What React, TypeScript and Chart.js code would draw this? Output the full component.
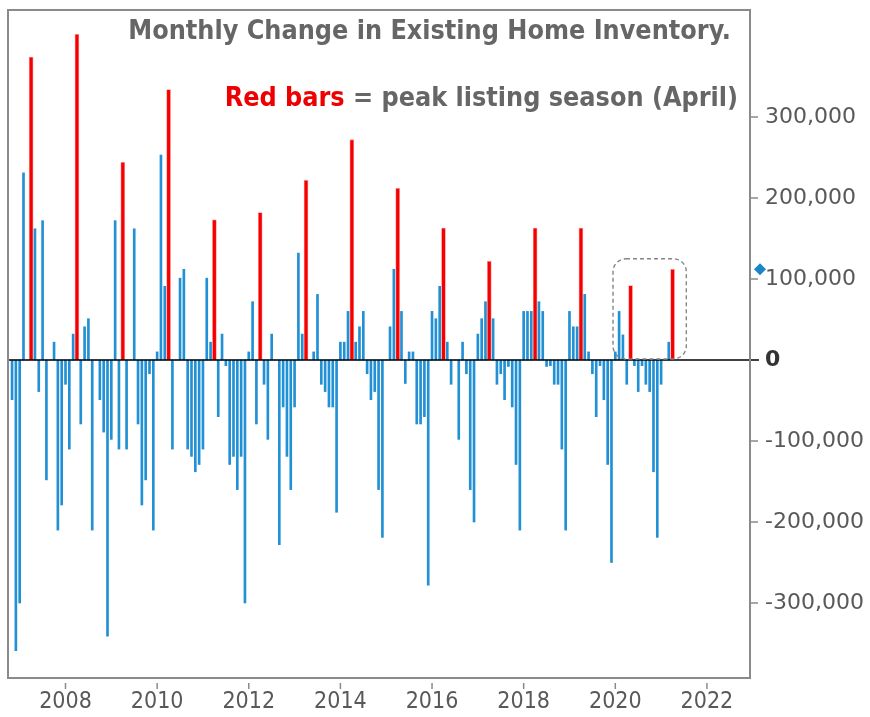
import React, { useEffect, useRef } from "react";
import { Chart, registerables } from "chart.js";

Chart.register(...registerables);

// ---- Data (thousands of units, monthly change in existing home inventory) ----
const firstYear = 2006;
const firstMonth = 11; // series starts Nov 2006
const y2006 = [-49, -359]; // Nov–Dec
const y2007 = [-300, 231, 0, 374, 162, -39, 172, -148, 0, 22, -210, -179];
const y2008 = [-30, -110, 32, 402, -79, 41, 51, -210, 0, -49, -89, -341];
const y2009 = [-98, 172, -110, 244, -110, 0, 162, -79, -179, -148, -17, -210];
const y2010 = [10, 253, 91, 334, -110, 0, 101, 112, -110, -119, -138, -129];
const y2011 = [-110, 101, 22, 173, -70, 32, -7, -129, -119, -160, -119, -300];
const y2012 = [10, 72, -79, 182, -30, -98, 32, 0, -228, -58, -119, -160];
const y2013 = [-58, 132, 32, 222, 0, 10, 81, -30, -39, -58, -58, -188];
const y2014 = [22, 22, 60, 272, 22, 41, 60, -17, -49, -39, -160, -219];
const y2015 = [0, 41, 112, 212, 60, -29, 10, 10, -79, -79, -70, -278];
const y2016 = [60, 51, 91, 163, 22, -30, 0, -98, 22, -17, -160, -200];
const y2017 = [32, 51, 72, 122, 51, -30, -17, -49, -8, -58, -129, -210];
const y2018 = [60, 60, 60, 163, 72, 60, -8, -7, -30, -30, -110, -210];
const y2019 = [60, 41, 41, 163, 81, 10, -17, -70, -7, -49, -129, -250];
const y2020 = [10, 60, 31, -30, 92, -7, -39, -7, -30, -39, -138, -219];
const y2021 = [-30, 0, 22, 112]; // Jan–Apr
const unitScale = 1000;

const peakListingMonths = [
  "2007-04", "2008-04", "2009-04", "2010-04", "2011-04", "2012-04", "2013-04",
  "2014-04", "2015-04", "2016-04", "2017-04", "2018-04", "2019-04", "2020-05", "2021-04",
];

const yearTicks = [2008, 2010, 2012, 2014, 2016, 2018, 2020, 2022];
const valueTicks = [-300000, -200000, -100000, 0, 100000, 200000, 300000];

const titleLine1 = "Monthly Change in Existing Home Inventory.";
const titleRed = "Red bars";
const titleRest = " = peak listing season (April)";

// highlighted window (data space)
const highlightFrom = 2019.95;
const highlightTo = 2021.55;
const highlightTop = 125000;

const yearlySeries = [y2006, y2007, y2008, y2009, y2010, y2011, y2012, y2013, y2014, y2015, y2016, y2017, y2018, y2019, y2020, y2021];

type Pt = { x: number; y: number };

function buildPoints() {
  const blue: Pt[] = [];
  const red: Pt[] = [];
  let last: Pt | null = null;
  yearlySeries.forEach((vals, i) => {
    const year = firstYear + i;
    const startM = i === 0 ? firstMonth : 1;
    vals.forEach((v, j) => {
      const month = startM + j;
      const key = `${year}-${String(month).padStart(2, "0")}`;
      const p = { x: year + (month - 1) / 12, y: v * unitScale };
      if (peakListingMonths.includes(key)) red.push(p);
      else blue.push(p);
      last = p;
    });
  });
  return { blue, red, last: last as unknown as Pt };
}

const GRAY_TEXT = "#666666";
const AXIS_TEXT = "#595959";
const FRAME = "#8a8a8a";

function noPad(s: any) {
  s.paddingTop = 0;
  s.paddingBottom = 0;
  s.paddingLeft = 0;
  s.paddingRight = 0;
}

export default function App() {
  const ref = useRef<HTMLCanvasElement>(null);

  useEffect(() => {
    document.body.style.margin = "0";
    const { blue, red, last } = buildPoints();

    const overlay = {
      id: "overlay",
      afterDatasetsDraw(chart: any) {
        const { ctx, chartArea: a, scales } = chart;
        const xs = scales.x;
        const ys = scales.y;
        ctx.save();
        // zero line
        const y0 = ys.getPixelForValue(0);
        ctx.strokeStyle = "#000";
        ctx.lineWidth = 1.5;
        ctx.beginPath();
        ctx.moveTo(a.left, y0);
        ctx.lineTo(a.right + 9, y0);
        ctx.stroke();

        // frame
        ctx.strokeStyle = FRAME;
        ctx.lineWidth = 2;
        ctx.strokeRect(a.left, a.top, a.right - a.left, a.bottom - a.top);

        // y tick marks
        ctx.lineWidth = 1.5;
        valueTicks.forEach((v) => {
          if (v === 0) return;
          const py = ys.getPixelForValue(v);
          ctx.beginPath();
          ctx.moveTo(a.right, py);
          ctx.lineTo(a.right + 8, py);
          ctx.stroke();
        });
        // x tick marks
        yearTicks.forEach((yr) => {
          const px = xs.getPixelForValue(yr);
          ctx.beginPath();
          ctx.moveTo(px, a.bottom + 5);
          ctx.lineTo(px, a.bottom + 11);
          ctx.stroke();
        });

        // dashed highlight box
        const bx1 = xs.getPixelForValue(highlightFrom);
        const bx2 = xs.getPixelForValue(highlightTo);
        const by1 = ys.getPixelForValue(highlightTop);
        const by2 = y0 - 1;
        ctx.setLineDash([4, 3]);
        ctx.strokeStyle = "#858585";
        ctx.lineWidth = 1.4;
        ctx.beginPath();
        (ctx as any).roundRect(bx1, by1, bx2 - bx1, by2 - by1, 13);
        ctx.stroke();
        ctx.setLineDash([]);

        // last value diamond
        const dy = ys.getPixelForValue(last.y);
        const dx = a.right + 10;
        ctx.fillStyle = "#1a86c8";
        ctx.beginPath();
        ctx.moveTo(dx, dy - 6);
        ctx.lineTo(dx + 6, dy);
        ctx.lineTo(dx, dy + 6);
        ctx.lineTo(dx - 6, dy);
        ctx.closePath();
        ctx.fill();

        // titles
        const fam = "'DejaVu Sans Condensed', 'DejaVu Sans', sans-serif";
        ctx.font = `bold 100px ${fam}`;
        const w1 = ctx.measureText(titleLine1).width;
        const size = (100 * 603) / w1;
        ctx.font = `bold ${size}px ${fam}`;
        ctx.textBaseline = "alphabetic";
        ctx.textAlign = "right";
        ctx.fillStyle = GRAY_TEXT;
        ctx.fillText(titleLine1, 731, 39);
        const restW = ctx.measureText(titleRest).width;
        ctx.fillText(titleRest, 738, 106);
        ctx.fillStyle = "#ee0000";
        ctx.fillText(titleRed, 738 - restW, 106);
        ctx.restore();
      },
    };

    const chart = new Chart(ref.current!, {
      type: "bar",
      data: {
        datasets: [
          {
            label: "Monthly change",
            data: blue as any,
            backgroundColor: "#2190d4",
            barThickness: 2,
            grouped: false,
          } as any,
          {
            label: "Peak listing month",
            data: red as any,
            backgroundColor: "#f50000",
            borderColor: "rgba(255,130,130,0.85)",
            borderWidth: 0.8,
            barThickness: 4,
            grouped: false,
          } as any,
        ],
      },
      options: {
        animation: false,
        responsive: false,
        maintainAspectRatio: false,
        layout: { padding: { left: 8, top: 10, right: 0, bottom: 0 } },
        plugins: { legend: { display: false }, title: { display: false }, tooltip: { enabled: false } },
        scales: {
          x: {
            type: "linear",
            min: 2006.745,
            max: 2022.94,
            offset: false,
            grid: { display: false, drawTicks: false },
            border: { display: false },
            afterBuildTicks: (s: any) => {
              s.ticks = yearTicks.map((v) => ({ value: v }));
            },
            afterFit: (s: any) => {
              s.height = 39;
              noPad(s);
            },
            ticks: {
              padding: 10,
              maxRotation: 0,
              autoSkip: false,
              color: AXIS_TEXT,
              font: { family: "'Liberation Sans Narrow', 'DejaVu Sans Condensed', sans-serif", size: 23 },
              callback: (v: any) => String(v),
            },
          },
          y: {
            position: "right",
            min: -392600,
            max: 432100,
            grid: { display: false, drawTicks: false },
            border: { display: false },
            afterBuildTicks: (s: any) => {
              s.ticks = valueTicks.map((v) => ({ value: v }));
            },
            afterFit: (s: any) => {
              s.width = 120;
              noPad(s);
            },
            ticks: {
              padding: 15,
              color: (c: any) => (c.tick && c.tick.value === 0 ? "#333333" : AXIS_TEXT),
              font: (c: any) => ({
                family: "'DejaVu Sans', sans-serif",
                size: 22,
                weight: c.tick && c.tick.value === 0 ? "bold" : "normal",
              }),
              callback: (v: any) => Number(v).toLocaleString("en-US"),
            },
          },
        },
      } as any,
      plugins: [overlay],
    });
    return () => chart.destroy();
  }, []);

  return (
    <div style={{ width: 870, height: 717, background: "#fff" }}>
      <canvas ref={ref} width={870} height={717} style={{ display: "block" }} />
    </div>
  );
}
